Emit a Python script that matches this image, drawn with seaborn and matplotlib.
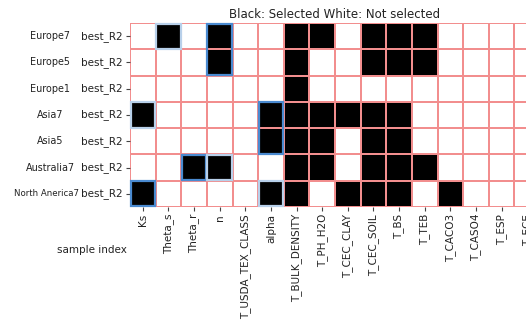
import matplotlib
matplotlib.use("Agg")
import matplotlib.pyplot as plt
import seaborn as sns
import numpy as np
import pandas as pd
from matplotlib.colors import ListedColormap
from matplotlib.patches import Rectangle

features = ["Ks", "Theta_s", "Theta_r", "n", "T_USDA_TEX_CLASS", "alpha",
            "T_BULK_DENSITY", "T_PH_H2O", "T_CEC_CLAY", "T_CEC_SOIL", "T_BS",
            "T_TEB", "T_CACO3", "T_CASO4", "T_ESP", "T_ECE"]
samples = ["Europe7", "Europe5", "Europe1", "Asia7", "Asia5", "Australia7", "North Anerica7"]
metric = "best_R2"

selected = {
    "Europe7": ["Theta_s", "n", "T_BULK_DENSITY", "T_PH_H2O", "T_CEC_SOIL", "T_BS", "T_TEB"],
    "Europe5": ["n", "T_BULK_DENSITY", "T_CEC_SOIL", "T_BS", "T_TEB"],
    "Europe1": ["T_BULK_DENSITY"],
    "Asia7": ["Ks", "alpha", "T_BULK_DENSITY", "T_PH_H2O", "T_CEC_CLAY", "T_CEC_SOIL", "T_BS"],
    "Asia5": ["alpha", "T_BULK_DENSITY", "T_PH_H2O", "T_CEC_SOIL", "T_BS"],
    "Australia7": ["Theta_r", "n", "T_BULK_DENSITY", "T_PH_H2O", "T_CEC_SOIL", "T_BS", "T_TEB"],
    "North Anerica7": ["Ks", "alpha", "T_BULK_DENSITY", "T_CEC_CLAY", "T_CEC_SOIL", "T_BS", "T_CACO3"],
}

# highlighted boxes: (first sample, feature, number of rows, tone)
highlights = [
    ("Europe7", "Theta_s", 1, "light"),
    ("Europe7", "n", 2, "dark"),
    ("Asia7", "Ks", 1, "light"),
    ("Asia7", "alpha", 2, "dark"),
    ("Australia7", "Theta_r", 1, "dark"),
    ("Australia7", "n", 1, "light"),
    ("North Anerica7", "Ks", 1, "dark"),
    ("North Anerica7", "alpha", 1, "light"),
]

mat = np.array([[1 if f in selected[s] else 0 for f in features] for s in samples])
df = pd.DataFrame(mat, index=samples, columns=features)

fig = plt.figure(figsize=(5.26, 3.22), dpi=100)
ax = fig.add_axes([130/526, 1 - 207/322, 410/526, 184/322])
sns.heatmap(df, ax=ax, cmap=ListedColormap(["white", "black"]), cbar=False,
            linewidths=1.2, linecolor="#f28e8e", vmin=0, vmax=1)

tones = {"light": "#b8d0ea", "dark": "#4a8ad0"}
for s, f, nr, tone in highlights:
    r = samples.index(s)
    c = features.index(f)
    ax.add_patch(Rectangle((c + 0.02, r + 0.02), 0.96, nr - 0.04, fill=False,
                           edgecolor=tones[tone], linewidth=1.6, clip_on=False, zorder=5))

ax.set_yticks(np.arange(len(samples)) + 0.5)
ax.set_yticklabels([metric] * len(samples), rotation=0, fontsize=7.5, color="#222222")
ax.set_xticks(np.arange(len(features)) + 0.5)
ax.set_xticklabels(features, rotation=90, fontsize=7.5, color="#222222")
ax.tick_params(length=3, width=0.8, color="#444444", pad=2)
ax.set_xlabel("")
ax.set_ylabel("")

for i, s in enumerate(samples):
    fs = 6.2 if len(s) > 12 else 6.9
    xc = 46 if len(s) > 12 else 50
    ax.text(xc/526, 1 - (23 + 26.3 * (i + 0.5)) / 322, s, transform=fig.transFigure,
            ha="center", va="center", fontsize=fs, color="#222222")

fig.text(92/526, 1 - 250/322, "sample index", ha="center", va="center",
         fontsize=7.5, color="#222222")
fig.text(335/526, 1 - 14/322, "Black: Selected White: Not selected", ha="center",
         va="center", fontsize=8.5, color="#222222")

fig.savefig("out.png", dpi=100)
